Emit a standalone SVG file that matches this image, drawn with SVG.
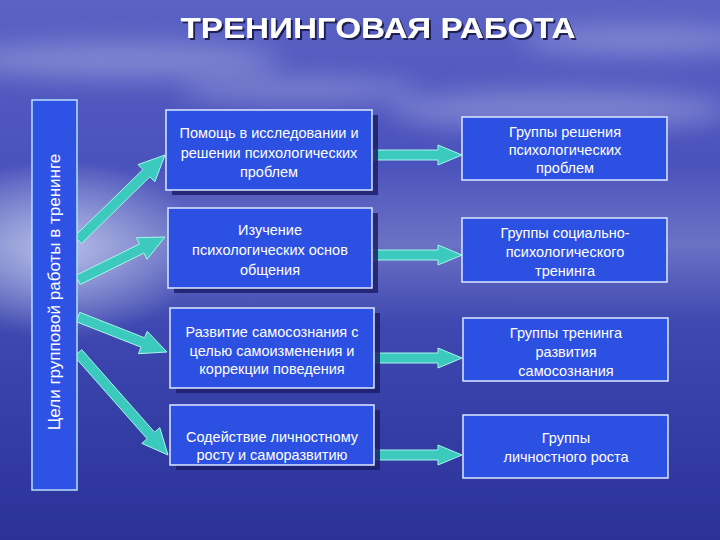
<svg xmlns="http://www.w3.org/2000/svg" width="720" height="540" viewBox="0 0 720 540">
<defs>
<linearGradient id="bg" x1="0" y1="0" x2="0" y2="1">
<stop offset="0" stop-color="#5a62c4"/>
<stop offset="0.3" stop-color="#4a52bc"/>
<stop offset="0.45" stop-color="#6a72c4"/>
<stop offset="0.6" stop-color="#3e48b0"/>
<stop offset="1" stop-color="#2a3298"/>
</linearGradient>
<radialGradient id="glow" cx="0.5" cy="0.5" r="0.5">
<stop offset="0" stop-color="#c8d0f0" stop-opacity="0.8"/>
<stop offset="1" stop-color="#c8d0f0" stop-opacity="0"/>
</radialGradient>
<filter id="blur" x="-50%" y="-50%" width="200%" height="200%"><feGaussianBlur stdDeviation="12"/></filter>
<filter id="tsh" x="-10%" y="-30%" width="120%" height="160%"><feDropShadow dx="2" dy="2" stdDeviation="0.6" flood-color="#141444" flood-opacity="0.9"/></filter>
<style>
.box{fill:#2c50e2;stroke:#dce8ff;stroke-width:1.5}
.lbox{fill:#2e52e4;stroke:#b8e0ff;stroke-width:1.5}
.shd{fill:#1c1f6a;opacity:0.85}
.arr{fill:#3ccabe;stroke:#a8f4ea;stroke-width:1}
.t{font-family:"Liberation Sans",Arial,sans-serif;font-size:14.5px;fill:#ffffff;text-anchor:middle}
.tt{font-family:"Liberation Sans",Arial,sans-serif;font-size:30px;font-weight:bold;fill:#ffffff;text-anchor:middle}
</style>
</defs>
<rect width="720" height="540" fill="url(#bg)"/>
<ellipse cx="60" cy="250" rx="140" ry="90" fill="url(#glow)"/>
<g filter="url(#blur)" fill="#ffffff" opacity="0.25">
<ellipse cx="120" cy="60" rx="160" ry="18"/>
<ellipse cx="560" cy="110" rx="170" ry="20"/>
<ellipse cx="640" cy="40" rx="120" ry="14"/>
<ellipse cx="300" cy="90" rx="120" ry="12"/>
</g>
<g id="title">
<text class="tt" x="378" y="38" textLength="395" lengthAdjust="spacingAndGlyphs" filter="url(#tsh)">ТРЕНИНГОВАЯ  РАБОТА</text>
</g>
<g id="connectors">
<polygon class="arr" points="81.5,243.6 149.9,176.8 154.8,181.8 165,155 138.0,164.6 142.9,169.6 74.5,236.4"/>
<polygon class="arr" points="80.2,284.5 143.9,253.0 147.0,259.3 165,237 136.4,237.7 139.5,244.0 75.8,275.5"/>
<polygon class="arr" points="76.2,321.7 141.0,347.2 138.4,353.7 167,352 147.2,331.3 144.6,337.8 79.8,312.3"/>
<polygon class="arr" points="74.3,356.3 147.1,438.8 141.8,443.4 168,455 159.8,427.6 154.6,432.2 81.8,349.7"/>
<polygon class="arr" points="372,150 438,150 438,145 462,155 438,165 438,160 372,160"/>
<polygon class="arr" points="372,250 438,250 438,245 462,255 438,265 438,260 372,260"/>
<polygon class="arr" points="374,353 438,353 438,348 462,358 438,368 438,363 374,363"/>
<polygon class="arr" points="374,450 438,450 438,445 462,455 438,465 438,460 374,460"/>
</g>
<g id="goals">
<rect class="lbox" x="32" y="100" width="45" height="390"/>
<text class="t" style="font-size:17px" transform="translate(60,292) rotate(-90)">Цели групповой работы в тренинге</text>
</g>
<g id="m1">
<rect class="shd" x="172" y="115" width="206" height="80"/>
<rect class="box" x="166" y="110" width="206" height="80"/>
<text class="t" x="269" y="138">Помощь в исследовании и</text>
<text class="t" x="269" y="158">решении психологических</text>
<text class="t" x="269" y="177">проблем</text>
</g>
<g id="m2">
<rect class="shd" x="174" y="213" width="204" height="80"/>
<rect class="box" x="168" y="208" width="204" height="80"/>
<text class="t" x="270" y="235">Изучение</text>
<text class="t" x="270" y="255">психологических основ</text>
<text class="t" x="270" y="275">общения</text>
</g>
<g id="m3">
<rect class="shd" x="176" y="313" width="204" height="80"/>
<rect class="box" x="170" y="308" width="204" height="80"/>
<text class="t" x="272" y="337">Развитие самосознания с</text>
<text class="t" x="272" y="356">целью самоизменения и</text>
<text class="t" x="272" y="374">коррекции поведения</text>
</g>
<g id="m4">
<rect class="shd" x="176" y="410" width="204" height="60"/>
<rect class="box" x="170" y="405" width="204" height="60"/>
<text class="t" x="272" y="442">Содействие личностному</text>
<text class="t" x="272" y="460">росту и саморазвитию</text>
</g>
<g id="r1">
<rect class="box" x="462" y="117" width="205" height="63"/>
<text class="t" x="565" y="137">Группы решения</text>
<text class="t" x="565" y="155">психологических</text>
<text class="t" x="565" y="173">проблем</text>
</g>
<g id="r2">
<rect class="box" x="462" y="218" width="205" height="64"/>
<text class="t" x="565" y="238">Группы социально-</text>
<text class="t" x="565" y="257">психологического</text>
<text class="t" x="565" y="276">тренинга</text>
</g>
<g id="r3">
<rect class="box" x="463" y="318" width="205" height="63"/>
<text class="t" x="566" y="338">Группы тренинга</text>
<text class="t" x="566" y="357">развития</text>
<text class="t" x="566" y="376">самосознания</text>
</g>
<g id="r4">
<rect class="box" x="463" y="415" width="205" height="63"/>
<text class="t" x="566" y="443">Группы</text>
<text class="t" x="566" y="462">личностного роста</text>
</g>
</svg>
